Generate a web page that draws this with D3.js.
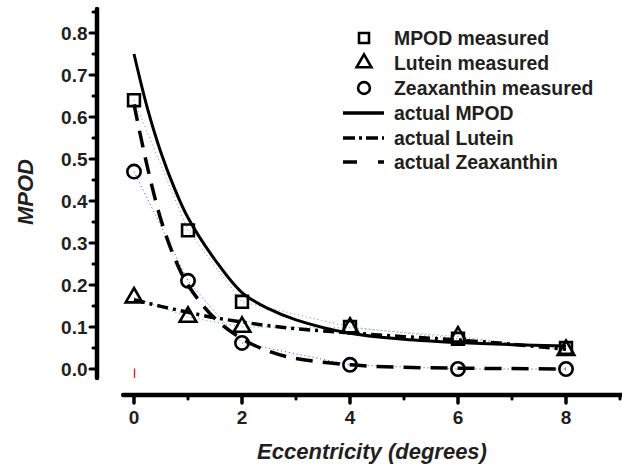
<!DOCTYPE html>
<html>
<head>
<meta charset="utf-8">
<script src="https://cdn.jsdelivr.net/npm/d3@7"></script>
<style>
  body { margin: 0; background: #fff; }
  #chart { width: 622px; height: 465px; }
  text { font-family: "Liberation Sans", Arial, sans-serif; fill: #231f20; }
</style>
</head>
<body>
<div id="chart"></div>
<script>
// measured points
var ecc = [0, 1, 2, 4, 6, 8];
var mpodMeasured = [0.64, 0.33, 0.16, 0.10, 0.072, 0.05];
var luteinMeasured = [0.17, 0.124, 0.10, 0.098, 0.077, 0.045];
var zeaMeasured = [0.47, 0.21, 0.062, 0.01, 0.0, 0.0];

// fitted ("actual") curves
var curveX = [0, 0.25, 0.5, 0.75, 1, 1.5, 2, 2.5, 3, 4, 5, 6, 7, 8];
var mpodActual = [0.75, 0.62, 0.515, 0.43, 0.36, 0.26, 0.182, 0.143, 0.117, 0.085, 0.071, 0.063, 0.058, 0.055];
var luteinActual = [0.165, 0.157, 0.149, 0.142, 0.135, 0.122, 0.112, 0.103, 0.096, 0.086, 0.077, 0.069, 0.059, 0.047];
var zeaActual = [0.63, 0.48, 0.355, 0.265, 0.2, 0.12, 0.072, 0.042, 0.025, 0.01, 0.004, 0.002, 0.001, 0.0];

var xTicks = [0, 2, 4, 6, 8];
var xMinor = [1, 3, 5, 7, 9];
var yTicks = [0, 0.1, 0.2, 0.3, 0.4, 0.5, 0.6, 0.7, 0.8];
var yMinor = [0.05, 0.15, 0.25, 0.35, 0.45, 0.55, 0.65, 0.75, 0.85];

var legendLabels = ["MPOD measured", "Lutein measured", "Zeaxanthin measured",
                    "actual MPOD", "actual Lutein", "actual Zeaxanthin"];

var W = 622, H = 465;
var svg = d3.select("#chart").append("svg").attr("width", W).attr("height", H);

// scales
var x = d3.scaleLinear().domain([0, 8]).range([134, 566]);
var y = d3.scaleLinear().domain([0, 0.8]).range([369, 33]);

var black = "#000";

// ---- y axis (offset from x axis, Origin style)
var yG = svg.append("g");
yG.append("line")
  .attr("x1", 97).attr("x2", 97)
  .attr("y1", y(0.85) - 3).attr("y2", y(0) + 9)
  .attr("stroke", black).attr("stroke-width", 4.5).attr("stroke-linecap", "round");
yG.selectAll(".ymaj").data(yTicks).enter().append("line")
  .attr("x1", 90).attr("x2", 97)
  .attr("y1", function(d) { return y(d); }).attr("y2", function(d) { return y(d); })
  .attr("stroke", black).attr("stroke-width", 3).attr("stroke-linecap", "round");
yG.selectAll(".ymin").data(yMinor).enter().append("line")
  .attr("x1", 93).attr("x2", 97)
  .attr("y1", function(d) { return y(d); }).attr("y2", function(d) { return y(d); })
  .attr("stroke", black).attr("stroke-width", 3).attr("stroke-linecap", "round");
yG.selectAll(".ylab").data(yTicks).enter().append("text")
  .attr("x", 87.5).attr("y", function(d) { return y(d) + 6.5; })
  .attr("text-anchor", "end")
  .style("font-size", "19px").style("font-weight", "bold")
  .text(function(d) { return d3.format(".1f")(d); });

// ---- x axis
var xG = svg.append("g");
xG.append("line")
  .attr("x1", x(-0.2)).attr("x2", x(9.05))
  .attr("y1", 395).attr("y2", 395)
  .attr("stroke", black).attr("stroke-width", 4.5).attr("stroke-linecap", "round");
xG.selectAll(".xmaj").data(xTicks).enter().append("line")
  .attr("x1", function(d) { return x(d); }).attr("x2", function(d) { return x(d); })
  .attr("y1", 395).attr("y2", 403)
  .attr("stroke", black).attr("stroke-width", 3.5).attr("stroke-linecap", "round");
xG.selectAll(".xmin").data(xMinor).enter().append("line")
  .attr("x1", function(d) { return x(d); }).attr("x2", function(d) { return x(d); })
  .attr("y1", 395).attr("y2", 399)
  .attr("stroke", black).attr("stroke-width", 3).attr("stroke-linecap", "round");
xG.selectAll(".xlab").data(xTicks).enter().append("text")
  .attr("x", function(d) { return x(d); }).attr("y", 423.5)
  .attr("text-anchor", "middle")
  .style("font-size", "19px").style("font-weight", "bold")
  .text(function(d) { return d; });

// axis titles
svg.append("text")
  .attr("transform", "translate(33,192) rotate(-90)")
  .attr("text-anchor", "middle")
  .style("font-size", "22px").style("font-weight", "bold").style("font-style", "italic")
  .text("MPOD");
svg.append("text")
  .attr("x", 372).attr("y", 459)
  .attr("text-anchor", "middle")
  .style("font-size", "22px").style("font-weight", "bold").style("font-style", "italic")
  .text("Eccentricity (degrees)");

// small red mark at the origin
svg.append("line")
  .attr("x1", x(0) + 0.5).attr("x2", x(0) + 0.5)
  .attr("y1", y(0) - 0.5).attr("y2", y(0) + 9)
  .attr("stroke", "#ff1010").attr("stroke-width", 1.3);

// ---- thin dotted connectors between measured points
var connect = d3.line()
  .x(function(d, i) { return x(ecc[i]); })
  .y(function(d) { return y(d); });
svg.append("path").datum(mpodMeasured).attr("d", connect)
  .attr("fill", "none").attr("stroke", "#888").attr("stroke-width", 1).attr("stroke-dasharray", "1,3");
svg.append("path").datum(luteinMeasured).attr("d", connect)
  .attr("fill", "none").attr("stroke", "#3aa7a7").attr("stroke-width", 1).attr("stroke-dasharray", "1,3");
svg.append("path").datum(zeaMeasured).attr("d", connect)
  .attr("fill", "none").attr("stroke", "#3b3bff").attr("stroke-width", 1).attr("stroke-dasharray", "1,3");

// ---- fitted curves
var curve = d3.line()
  .x(function(d, i) { return x(curveX[i]); })
  .y(function(d) { return y(d); })
  .curve(d3.curveCatmullRom.alpha(0.5));

svg.append("path").datum(mpodActual).attr("d", curve)
  .attr("fill", "none").attr("stroke", black).attr("stroke-width", 3);
svg.append("path").datum(luteinActual).attr("d", curve)
  .attr("fill", "none").attr("stroke", black).attr("stroke-width", 3.5)
  .attr("stroke-dasharray", "11,5,3,5");
svg.append("path").datum(zeaActual).attr("d", curve)
  .attr("fill", "none").attr("stroke", black).attr("stroke-width", 3.5)
  .attr("stroke-dasharray", "17,10");

// ---- measured markers
function drawMarkers(vals, type, size) {
  svg.selectAll(null).data(vals).enter().append("path")
    .attr("transform", function(d, i) { return "translate(" + x(ecc[i]) + "," + y(d) + ")"; })
    .attr("d", d3.symbol().type(type).size(size))
    .attr("fill", "none").attr("stroke", black).attr("stroke-width", 2.6);
}
drawMarkers(luteinMeasured, d3.symbolTriangle, 120);
drawMarkers(zeaMeasured, d3.symbolCircle, 140);
drawMarkers(mpodMeasured, d3.symbolSquare, 140);

// ---- legend
var legendY = [38, 63, 88, 113, 138, 162];
var lg = svg.append("g");
lg.selectAll(".lt").data(legendLabels).enter().append("text")
  .attr("x", 394).attr("y", function(d, i) { return legendY[i] + 7; })
  .style("font-size", "19.4px").style("font-weight", "bold")
  .text(function(d) { return d; });

var legendSymbols = [d3.symbolSquare, d3.symbolTriangle, d3.symbolCircle];
var legendSizes = [100, 95, 110];
lg.selectAll(".ls").data(legendSymbols).enter().append("path")
  .attr("transform", function(d, i) { return "translate(364," + legendY[i] + ")"; })
  .attr("d", function(d, i) { return d3.symbol().type(d).size(legendSizes[i])(); })
  .attr("fill", "none").attr("stroke", black).attr("stroke-width", 2.6);

var legendDash = [null, "12,4,3,4", "14,21"];
lg.selectAll(".ll").data(legendDash).enter().append("line")
  .attr("x1", 343).attr("x2", 384)
  .attr("y1", function(d, i) { return legendY[i + 3]; })
  .attr("y2", function(d, i) { return legendY[i + 3]; })
  .attr("stroke", black).attr("stroke-width", 3.5)
  .attr("stroke-dasharray", function(d) { return d; });
</script>
</body>
</html>
